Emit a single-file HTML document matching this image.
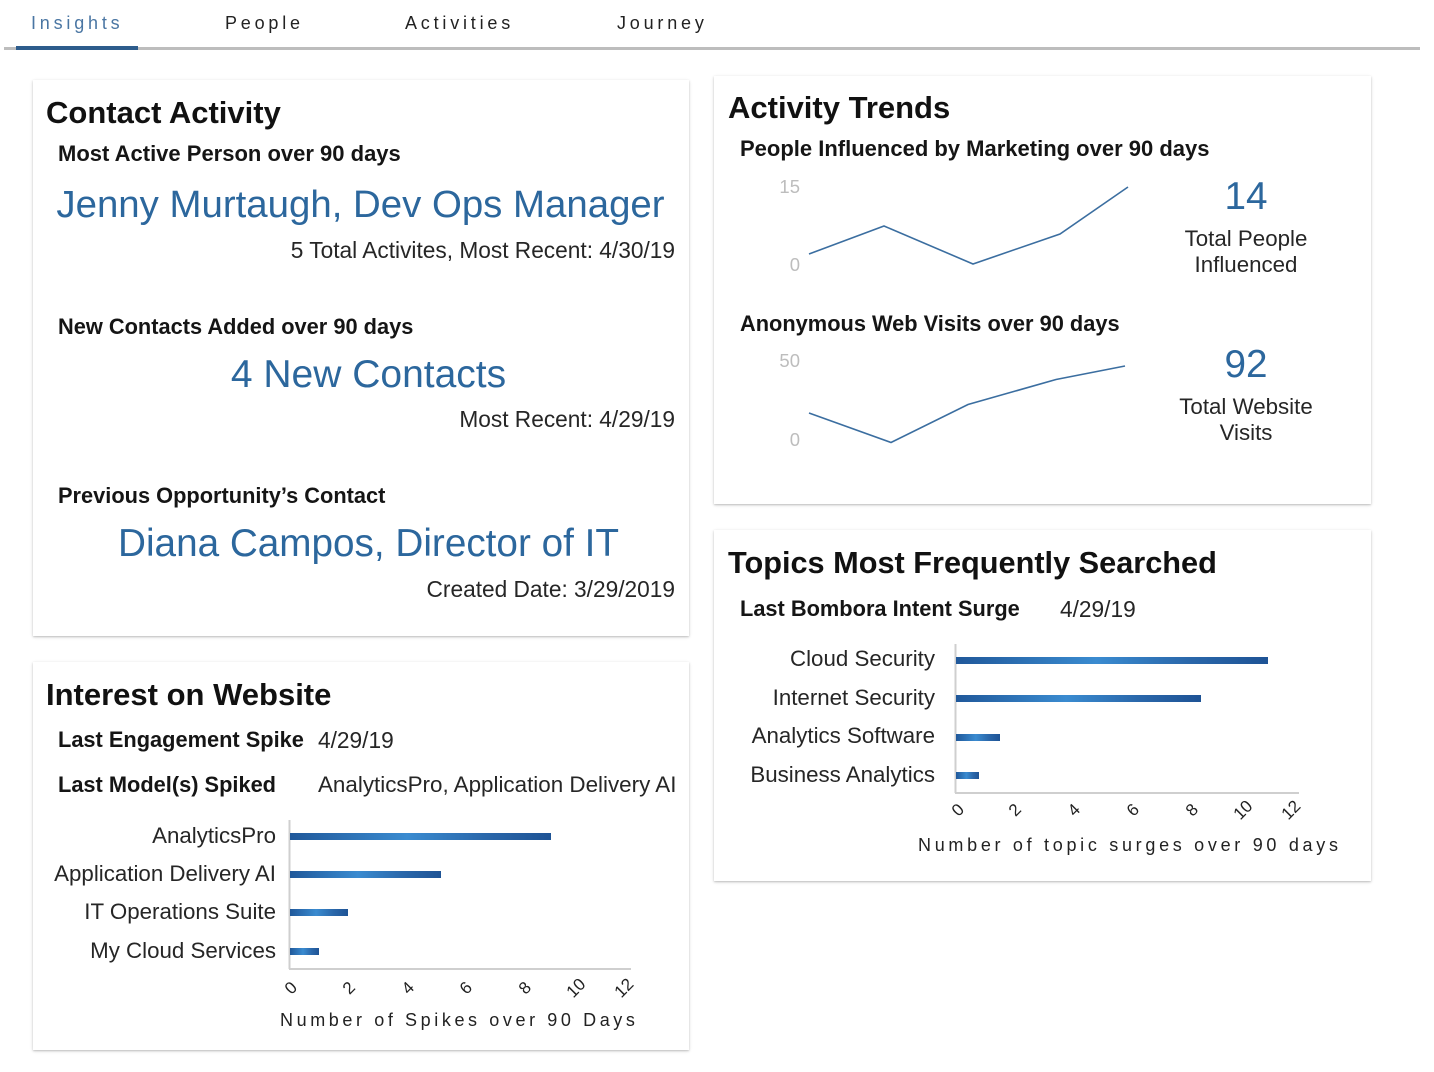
<!DOCTYPE html>
<html>
<head>
<meta charset="utf-8">
<style>
  html,body{margin:0;padding:0;background:#fff;}
  #root{position:relative;width:1434px;height:1072px;overflow:hidden;background:#fff;font-family:"Liberation Sans",Arial,sans-serif;color:#222;}
  .card{position:absolute;background:#fff;box-shadow:0 1px 3px rgba(0,0,0,0.22),0 1px 1px rgba(0,0,0,0.08);}
  .t{position:absolute;white-space:nowrap;line-height:1;}
  .b{font-weight:bold;color:#111;}
  .h{font-weight:bold;color:#111;font-size:31px;}
  .lbl{font-weight:bold;color:#151515;font-size:21.8px;}
  .big{color:#2c679d;font-size:38.7px;}
  .reg{font-size:22.7px;color:#262626;}
  .r{text-align:right;}
  .c{text-align:center;width:800px;}
  .tab{font-size:18px;letter-spacing:3.8px;color:#222;top:14px;}
  .ax{font-size:18.5px;color:#bdbdbd;text-align:right;width:60px;}
  .cl{font-size:22.3px;color:#262626;text-align:right;width:300px;}
  .tk{font-size:17px;color:#222;transform:translate(-50%,-50%) rotate(-45deg);}
  .at{font-size:18px;letter-spacing:3.6px;color:#222;}
</style>
</head>
<body>
<div id="root">
  <!-- tabs -->
  <div class="t tab" style="left:31px;color:#4a76a3;">Insights</div>
  <div class="t tab" style="left:225px;">People</div>
  <div class="t tab" style="left:405px;">Activities</div>
  <div class="t tab" style="left:617px;">Journey</div>
  <div style="position:absolute;left:4px;top:47px;width:1416px;height:3px;background:#bdbdbd;"></div>
  <div style="position:absolute;left:16px;top:46px;width:122px;height:4px;background:#2d5c8c;"></div>

  <!-- cards -->
  <div class="card" style="left:33px;top:80px;width:656px;height:556px;"></div>
  <div class="card" style="left:33px;top:662px;width:656px;height:388px;"></div>
  <div class="card" style="left:714px;top:76px;width:657px;height:428px;"></div>
  <div class="card" style="left:714px;top:530px;width:657px;height:351px;"></div>

  <svg width="1434" height="1072" style="position:absolute;left:0;top:0;" xmlns="http://www.w3.org/2000/svg">
    <defs>
      <linearGradient id="bg" x1="0" y1="0" x2="1" y2="0">
        <stop offset="0" stop-color="#20589a"/>
        <stop offset="0.45" stop-color="#3a8bd0"/>
        <stop offset="0.75" stop-color="#2a67aa"/>
        <stop offset="1" stop-color="#1e5395"/>
      </linearGradient>
    </defs>
    <!-- line chart 1 -->
    <polyline points="809,254 884,226 973,264 1060,234 1128,187" fill="none" stroke="#3b6ea0" stroke-width="1.6"/>
    <!-- line chart 2 -->
    <polyline points="809,413 891,442.5 968,404.5 1056,379.5 1125,366" fill="none" stroke="#3b6ea0" stroke-width="1.6"/>

    <!-- interest bar chart -->
    <line x1="289.5" y1="820" x2="289.5" y2="969" stroke="#cfcfcf" stroke-width="2"/>
    <line x1="289" y1="969" x2="631" y2="969" stroke="#cfcfcf" stroke-width="2"/>
    <rect x="290" y="833" width="261" height="7" fill="url(#bg)"/>
    <rect x="290" y="871" width="151" height="7" fill="url(#bg)"/>
    <rect x="290" y="909" width="58" height="7" fill="url(#bg)"/>
    <rect x="290" y="948" width="29" height="7" fill="url(#bg)"/>

    <!-- topics bar chart -->
    <line x1="955.5" y1="644" x2="955.5" y2="793" stroke="#cfcfcf" stroke-width="2"/>
    <line x1="955" y1="793" x2="1299" y2="793" stroke="#cfcfcf" stroke-width="2"/>
    <rect x="956" y="657" width="312" height="7" fill="url(#bg)"/>
    <rect x="956" y="695" width="245" height="7" fill="url(#bg)"/>
    <rect x="956" y="734" width="44" height="7" fill="url(#bg)"/>
    <rect x="956" y="772" width="23" height="7" fill="url(#bg)"/>
  </svg>

  <!-- Card 1: Contact Activity -->
  <div class="t h" style="left:46px;top:96.8px;">Contact Activity</div>
  <div class="t lbl" style="left:58px;top:143.2px;font-size:22px;">Most Active Person over 90 days</div>
  <div class="t big c" style="left:-39.5px;top:186.2px;font-size:38.4px;">Jenny Murtaugh, Dev Ops Manager</div>
  <div class="t reg r" style="right:759px;top:239px;">5 Total Activites, Most Recent: 4/30/19</div>

  <div class="t lbl" style="left:58px;top:316.2px;">New Contacts Added over 90 days</div>
  <div class="t big c" style="left:-31.5px;top:355.2px;font-size:39px;">4 New Contacts</div>
  <div class="t reg r" style="right:759px;top:408px;">Most Recent: 4/29/19</div>

  <div class="t lbl" style="left:58px;top:485.2px;">Previous Opportunity’s Contact</div>
  <div class="t big c" style="left:-31.5px;top:525.2px;">Diana Campos, Director of IT</div>
  <div class="t reg r" style="right:759px;top:578px;">Created Date: 3/29/2019</div>

  <!-- Card 2: Interest on Website -->
  <div class="t h" style="left:46px;top:679.3px;">Interest on Website</div>
  <div class="t lbl" style="left:58px;top:729.2px;">Last Engagement Spike</div>
  <div class="t reg" style="left:318px;top:729.1px;">4/29/19</div>
  <div class="t lbl" style="left:58px;top:773.7px;">Last Model(s) Spiked</div>
  <div class="t reg" style="left:318px;top:773.6px;font-size:22.4px;">AnalyticsPro, Application Delivery AI</div>

  <div class="t cl" style="left:-24px;top:825.2px;">AnalyticsPro</div>
  <div class="t cl" style="left:-24px;top:863.2px;">Application Delivery AI</div>
  <div class="t cl" style="left:-24px;top:901.2px;">IT Operations Suite</div>
  <div class="t cl" style="left:-24px;top:940.2px;">My Cloud Services</div>

  <div class="t tk" style="left:291px;top:988px;">0</div>
  <div class="t tk" style="left:349px;top:988px;">2</div>
  <div class="t tk" style="left:408px;top:988px;">4</div>
  <div class="t tk" style="left:466px;top:988px;">6</div>
  <div class="t tk" style="left:525px;top:988px;">8</div>
  <div class="t tk" style="left:576px;top:988px;">10</div>
  <div class="t tk" style="left:624px;top:988px;">12</div>
  <div class="t at" style="left:280px;top:1011.2px;">Number of Spikes over 90 Days</div>

  <!-- Card 3: Activity Trends -->
  <div class="t h" style="left:728px;top:91.8px;">Activity Trends</div>
  <div class="t lbl" style="left:740px;top:138.2px;font-size:22px;">People Influenced by Marketing over 90 days</div>
  <div class="t ax" style="left:740px;top:177.9px;">15</div>
  <div class="t ax" style="left:740px;top:256.4px;">0</div>
  <div class="t big c" style="left:846px;top:177.6px;">14</div>
  <div class="t reg c" style="left:846px;top:228.2px;font-size:22.3px;">Total People</div>
  <div class="t reg c" style="left:846px;top:253.7px;font-size:22.3px;">Influenced</div>

  <div class="t lbl" style="left:740px;top:312.7px;">Anonymous Web Visits over 90 days</div>
  <div class="t ax" style="left:740px;top:352.4px;">50</div>
  <div class="t ax" style="left:740px;top:430.9px;">0</div>
  <div class="t big c" style="left:846px;top:346.1px;">92</div>
  <div class="t reg c" style="left:846px;top:396.2px;font-size:22.3px;">Total Website</div>
  <div class="t reg c" style="left:846px;top:421.7px;font-size:22.3px;">Visits</div>

  <!-- Card 4: Topics -->
  <div class="t h" style="left:728px;top:548.3px;font-size:30.7px;">Topics Most Frequently Searched</div>
  <div class="t lbl" style="left:740px;top:598.2px;">Last Bombora Intent Surge</div>
  <div class="t reg" style="left:1060px;top:598.1px;">4/29/19</div>

  <div class="t cl" style="left:635px;top:648.2px;">Cloud Security</div>
  <div class="t cl" style="left:635px;top:686.7px;">Internet Security</div>
  <div class="t cl" style="left:635px;top:725.2px;">Analytics Software</div>
  <div class="t cl" style="left:635px;top:764.2px;">Business Analytics</div>

  <div class="t tk" style="left:958px;top:810px;">0</div>
  <div class="t tk" style="left:1015px;top:810px;">2</div>
  <div class="t tk" style="left:1074px;top:810px;">4</div>
  <div class="t tk" style="left:1133px;top:810px;">6</div>
  <div class="t tk" style="left:1192px;top:810px;">8</div>
  <div class="t tk" style="left:1243px;top:810px;">10</div>
  <div class="t tk" style="left:1291px;top:810px;">12</div>
  <div class="t at" style="left:918px;top:836.2px;letter-spacing:3.7px;">Number of topic surges over 90 days</div>
</div>
</body>
</html>
